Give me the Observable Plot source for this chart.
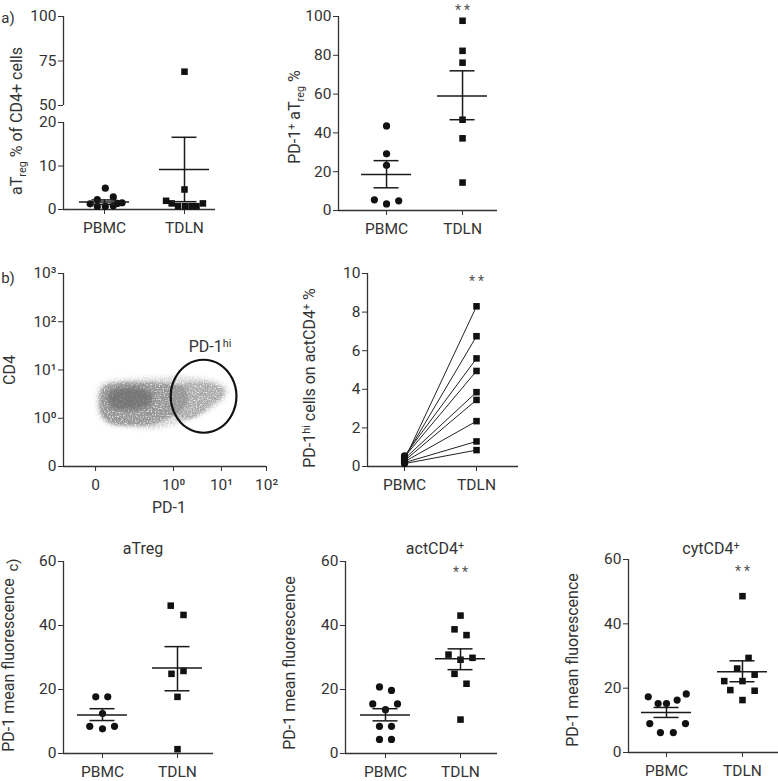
<!DOCTYPE html>
<html><head><meta charset="utf-8">
<script src="https://cdn.jsdelivr.net/npm/d3@7"></script>
<script src="https://cdn.jsdelivr.net/npm/@observablehq/plot@0.6"></script>
<style>
html,body{margin:0;padding:0;background:#fff;}
#fig{position:relative;width:778px;height:781px;overflow:hidden;font-family:Roboto,"DejaVu Sans",sans-serif;color:#333;}
#fig svg{position:absolute;left:0;top:0;}
.lab{position:absolute;white-space:nowrap;font-size:16px;line-height:1;transform:translate(-50%,-50%);}
.rot{transform:translate(-50%,-50%) rotate(-90deg);}
.lab sup{font-size:0.68em;vertical-align:0.5em;line-height:0;}
.lab sub{font-size:0.68em;vertical-align:-0.35em;line-height:0;}
</style></head><body><div id="fig"></div>
<script>
// ---------- data ----------
const groups = ["PBMC", "TDLN"];

// a) left: aTreg % of CD4+ cells (broken axis)
const aTregPBMC = [4.9, 2.3, 2.9, 1.3, 1.55, 0.7, 0.7, 0.85, 1.4];
const aTregPBMCJitter = [0.01, -0.09, 0.11, -0.18, 0.22, -0.09, 0.01, 0.11, 0.16];
const aTregTDLN = [69, 4.6, 2.0, 1.4, 0.76, 0.76, 0.76, 0.76, 1.4];
const aTregTDLNJitter = [0, 0, -0.23, -0.16, -0.08, 0.01, 0.09, 0.15, 0.23];
const aTregMean = [1.7, 9.2];
const aTregUpper = [2.2, 16.6];
const aTregLower = [1.2, 1.8];
const aTregTicksLow = [0, 10, 20];
const aTregTicksHigh = [50, 75, 100];

// a) right: PD-1+ aTreg %
const pd1aTregPBMC = [43.6, 29.2, 23.3, 5.5, 3.4, 5.0];
const pd1aTregPBMCJitter = [0, 0, 0, -0.16, 0, 0.16];
const pd1aTregTDLN = [97.8, 82.3, 76.2, 46.8, 37.2, 14.4];
const pd1aTregTDLNJitter = [0, 0, 0, 0, 0, 0];
const pd1aTregMean = [18.5, 59.0];
const pd1aTregUpper = [25.7, 72.0];
const pd1aTregLower = [11.7, 46.8];
const pd1aTregTicks = [0, 20, 40, 60, 80, 100];
const pd1aTregSig = 105.2;

// b) left: flow cytometry plot (display channels)
const flowXTicks = [158, 542, 778, 1000];
const flowXLabels = ["0", "10⁰", "10¹", "10²"];
const flowYTicks = [0, 250, 500, 750, 1000];
const flowYLabels = ["0", "10⁰", "10¹", "10²", "10³"];
const cloudHalo = [[165,360],[180,420],[240,448],[330,456],[450,462],[560,468],[680,458],[770,435],[808,400],[798,360],[740,305],[660,262],[560,220],[440,196],[320,204],[220,218],[172,270]];
const cloudRight = [[560,420],[650,436],[740,428],[790,400],[784,362],[730,320],[690,282],[640,252],[580,246],[540,290],[530,360]];
const cloudLeft = [[178,360],[195,412],[260,432],[350,438],[450,436],[540,428],[600,408],[612,350],[582,292],[520,252],[440,218],[330,212],[230,226],[186,272]];
const cloudCore = [[215,362],[240,396],[300,410],[380,406],[432,384],[436,332],[392,302],[310,292],[240,302]];
const gate = [[852,364],[830,458],[771,528],[690,553],[609,528],[550,458],[528,364],[550,270],[609,200],[690,175],[771,200],[830,270]];

// b) right: PD-1hi cells on actCD4+ % (paired)
const pd1hiPBMC = [0.35, 0.45, 0.55, 0.5, 0.4, 0.3, 0.25, 0.2, 0.15];
const pd1hiTDLN = [8.3, 6.75, 5.6, 4.95, 3.85, 3.45, 2.35, 1.3, 0.85];
const pd1hiTicks = [0, 2, 4, 6, 8, 10];
const pd1hiSig = 9.8;

// c) PD-1 mean fluorescence
const mfiTicks = [0, 20, 40, 60];
const mfiATregPBMC = [17.7, 17.7, 12.5, 8.5, 7.7, 8.5];
const mfiATregPBMCJitter = [-0.09, 0.07, 0, -0.17, 0, 0.16];
const mfiATregTDLN = [46.2, 43.3, 24.9, 25.8, 17.7, 1.35];
const mfiATregTDLNJitter = [-0.09, 0.08, -0.08, 0.08, 0, 0];
const mfiATregMean = [12.0, 26.7];
const mfiATregUpper = [14.0, 33.4];
const mfiATregLower = [10.3, 19.6];

const mfiActPBMC = [20.8, 19.7, 15.5, 13.7, 15.5, 8.5, 8.5, 4.4, 4.4];
const mfiActPBMCJitter = [-0.08, 0.08, -0.17, 0, 0.16, -0.08, 0.08, -0.08, 0.08];
const mfiActTDLN = [43.1, 38.8, 37.0, 30.9, 29.3, 29.9, 24.9, 21.8, 10.6];
const mfiActTDLNJitter = [0, -0.08, 0.08, -0.16, 0, 0.16, -0.08, 0.08, 0];
const mfiActMean = [12.0, 29.6];
const mfiActUpper = [14.0, 32.7];
const mfiActLower = [10.2, 26.2];
const mfiActSig = 57.8;

const mfiCytPBMC = [17.3, 15.2, 15.2, 16.3, 18.2, 9.0, 9.0, 6.2, 6.2];
const mfiCytPBMCJitter = [-0.24, -0.11, 0, 0.14, 0.26, -0.22, 0.25, -0.08, 0.09];
const mfiCytTDLN = [48.6, 29.4, 26.1, 24.2, 22.2, 22.2, 19.4, 19.2, 16.3];
const mfiCytTDLNJitter = [0, 0.08, -0.07, 0.16, -0.24, 0, -0.16, 0.16, 0];
const mfiCytMean = [12.4, 25.1];
const mfiCytUpper = [14.0, 28.5];
const mfiCytLower = [10.9, 22.0];
const mfiCytSig = 57.5;

// ---------- drawing ----------
const W = 778, H = 781;
const fig = document.getElementById("fig");
const INK = "#333";
const baseStyle = {background: "transparent", color: INK, fontFamily: "Roboto, 'DejaVu Sans', sans-serif", fontSize: "15.5px", overflow: "visible"};

function pts(vals, jit, g) { return vals.map((v, i) => ({g, x: g + (jit ? jit[i] : 0), y: v})); }

function frameOpts([L, T, R, B]) {
  return {width: W, height: H, marginLeft: L, marginTop: T, marginRight: W - R, marginBottom: H - B};
}

function scatterPanel(o) {
  const [L, T, R, B] = o.frame;
  const ppu = (R - L) / (o.xDomain[1] - o.xDomain[0]);
  const mhw = 25 / ppu, chw = 12.5 / ppu;
  const inRange = d => d.y >= o.yDomain[0] && d.y <= o.yDomain[1];
  const pb = pts(o.pbmc, o.pbmcJ, 0).filter(inRange);
  const td = pts(o.tdln, o.tdlnJ, 1).filter(inRange);
  const stats = o.mean ? groups.map((n, i) => ({g: i, m: o.mean[i], hi: o.upper[i], lo: o.lower[i]})) : [];
  const bar = {stroke: "#1a1a1a", strokeWidth: 1.5};
  const marks = [Plot.ruleX([o.xDomain[0]], {stroke: INK, strokeWidth: 1.3})];
  if (o.xAxis !== false) marks.push(Plot.ruleY([o.yDomain[0]], {stroke: INK, strokeWidth: 1.3}));
  if (o.links) marks.push(Plot.link(o.links, {x1: () => 0, x2: () => 1, y1: "a", y2: "b", stroke: "#222", strokeWidth: 1}));
  marks.push(
    Plot.dot(pb, {x: "x", y: "y", r: 3.6, fill: "#111", symbol: "circle"}),
    Plot.dot(td, {x: "x", y: "y", r: 3.7, fill: "#111", symbol: "square"}),
    Plot.ruleX(stats, {x: "g", y1: "lo", y2: "hi", ...bar}),
    Plot.ruleY(stats, {y: "hi", x1: d => d.g - chw, x2: d => d.g + chw, ...bar}),
    Plot.ruleY(stats, {y: "lo", x1: d => d.g - chw, x2: d => d.g + chw, ...bar}),
    Plot.ruleY(stats, {y: "m", x1: d => d.g - mhw, x2: d => d.g + mhw, ...bar})
  );
  if (o.sig != null) marks.push(Plot.text([o.sig], {x: () => 1, y: d => d, text: () => "*\u2009*", fontSize: 14, fill: "#555", dy: 4}));
  const svg = Plot.plot({
    ...frameOpts(o.frame),
    style: baseStyle,
    x: o.xAxis === false ? {domain: o.xDomain, axis: null}
      : {domain: o.xDomain, ticks: [0, 1], tickFormat: d => groups[d], tickSize: 5, tickPadding: 7, label: null},
    y: {domain: o.yDomain, ticks: o.yTicks, tickSize: 5, tickPadding: 2, label: null},
    marks
  });
  fig.appendChild(svg);
}

// a) left, upper segment
scatterPanel({frame: [63, 16, 215, 105], xDomain: [-0.5125, 1.3875], yDomain: [50, 100], yTicks: aTregTicksHigh,
  pbmc: aTregPBMC, pbmcJ: aTregPBMCJitter, tdln: aTregTDLN, tdlnJ: aTregTDLNJitter, xAxis: false});
// a) left, lower segment
scatterPanel({frame: [63, 122, 215, 209], xDomain: [-0.5125, 1.3875], yDomain: [0, 20], yTicks: aTregTicksLow,
  pbmc: aTregPBMC, pbmcJ: aTregPBMCJitter, tdln: aTregTDLN, tdlnJ: aTregTDLNJitter,
  mean: aTregMean, upper: aTregUpper, lower: aTregLower});
// a) right
scatterPanel({frame: [338, 16, 497, 210], xDomain: [-0.632, 1.46], yDomain: [0, 100], yTicks: pd1aTregTicks,
  pbmc: pd1aTregPBMC, pbmcJ: pd1aTregPBMCJitter, tdln: pd1aTregTDLN, tdlnJ: pd1aTregTDLNJitter,
  mean: pd1aTregMean, upper: pd1aTregUpper, lower: pd1aTregLower, sig: pd1aTregSig});
// b) right
scatterPanel({frame: [367, 273, 518, 466], xDomain: [-0.514, 1.583], yDomain: [0, 10], yTicks: pd1hiTicks,
  pbmc: pd1hiPBMC, tdln: pd1hiTDLN, links: pd1hiPBMC.map((a, i) => ({a, b: pd1hiTDLN[i]})), sig: pd1hiSig});
// c)
scatterPanel({frame: [63, 561, 213, 753], xDomain: [-0.52, 1.48], yDomain: [0, 60], yTicks: mfiTicks,
  pbmc: mfiATregPBMC, pbmcJ: mfiATregPBMCJitter, tdln: mfiATregTDLN, tdlnJ: mfiATregTDLNJitter,
  mean: mfiATregMean, upper: mfiATregUpper, lower: mfiATregLower});
scatterPanel({frame: [345, 561, 497, 753], xDomain: [-0.533, 1.493], yDomain: [0, 60], yTicks: mfiTicks,
  pbmc: mfiActPBMC, pbmcJ: mfiActPBMCJitter, tdln: mfiActTDLN, tdlnJ: mfiActTDLNJitter,
  mean: mfiActMean, upper: mfiActUpper, lower: mfiActLower, sig: mfiActSig});
scatterPanel({frame: [628, 559, 778, 752], xDomain: [-0.5, 1.474], yDomain: [0, 60], yTicks: mfiTicks,
  pbmc: mfiCytPBMC, pbmcJ: mfiCytPBMCJitter, tdln: mfiCytTDLN, tdlnJ: mfiCytTDLNJitter,
  mean: mfiCytMean, upper: mfiCytUpper, lower: mfiCytLower, sig: mfiCytSig});

// b) left: flow plot
(function () {
  const poly = (p, fill) => Plot.line(p, {x: d => d[0], y: d => d[1], curve: "catmull-rom-closed", fill, stroke: "none"});
  const svg = Plot.plot({
    ...frameOpts([63, 273, 266, 466]),
    style: baseStyle,
    x: {domain: [0, 1000], ticks: flowXTicks, tickFormat: d => flowXLabels[flowXTicks.indexOf(d)], tickSize: 5, tickPadding: 7, label: null},
    y: {domain: [0, 1000], ticks: flowYTicks, tickFormat: d => flowYLabels[flowYTicks.indexOf(d)], tickSize: 5, tickPadding: 2, label: null},
    marks: [
      poly(cloudHalo, "#d2d2d2"),
      poly(cloudRight, "#a8a8a8"),
      poly(cloudLeft, "#959595"),
      poly(cloudCore, "#777777"),
      Plot.line(gate, {x: d => d[0], y: d => d[1], curve: "catmull-rom-closed", stroke: "#111", strokeWidth: 2.2}),
      Plot.ruleX([0], {stroke: INK, strokeWidth: 1.3}),
      Plot.ruleY([0], {stroke: INK, strokeWidth: 1.3})
    ]
  });
  // speckled texture for the cell cloud (visual styling only)
  const s = d3.select(svg);
  const defs = s.insert("defs", ":first-child");
  const specs = [{seed: 3, blur: 2.2, k: 3.2, b: -0.85}, {seed: 11, blur: 1.6, k: 3.4, b: -0.9}, {seed: 17, blur: 1.6, k: 3.2, b: -0.7}, {seed: 29, blur: 2.0, k: 3.0, b: -0.3}];
  specs.forEach((sp, i) => {
    const f = defs.append("filter").attr("id", "spk" + i).attr("x", "-20%").attr("y", "-20%").attr("width", "140%").attr("height", "140%");
    f.append("feGaussianBlur").attr("in", "SourceGraphic").attr("stdDeviation", sp.blur).attr("result", "b");
    f.append("feTurbulence").attr("type", "fractalNoise").attr("baseFrequency", 0.75).attr("numOctaves", 2).attr("seed", sp.seed).attr("result", "n");
    f.append("feColorMatrix").attr("in", "n").attr("type", "matrix")
      .attr("values", `0 0 0 0 0  0 0 0 0 0  0 0 0 0 0  ${sp.k} 0 0 0 ${sp.b}`).attr("result", "m");
    f.append("feComposite").attr("in", "b").attr("in2", "m").attr("operator", "in");
  });
  s.selectAll('g[aria-label="line"]').filter((d, i) => i < 4).attr("filter", (d, i) => `url(#spk${i})`);
  fig.appendChild(svg);
})();

// ---------- text labels ----------
function label(html, x, y, rot, size) {
  const d = document.createElement("div");
  d.className = "lab" + (rot ? " rot" : "");
  d.style.left = x + "px";
  d.style.top = y + "px";
  if (size) d.style.fontSize = size + "px";
  d.innerHTML = html;
  fig.appendChild(d);
}
label("a)", 8, 18, false, 15);
label("b)", 8, 278, false, 15);
label("c)", 12.5, 565, true, 15);
label("aT<sub>reg</sub> % of CD4+ cells", 17, 121, true);
label("PD-1<sup>+</sup> aT<sub>reg</sub> %", 295, 117, true);
label("CD4", 10, 370, true);
label("PD-1", 169, 508, false);
label("PD-1<sup>hi</sup>", 210, 347, false);
label("PD-1<sup>hi</sup> cells on actCD4<sup>+</sup> %", 310, 378, true);
label("PD-1 mean fluorescence", 9, 665, true);
label("PD-1 mean fluorescence", 290, 663, true);
label("PD-1 mean fluorescence", 573, 660, true);
label("aTreg", 143, 549, false);
label("actCD4<sup>+</sup>", 435, 549, false);
label("cytCD4<sup>+</sup>", 711, 549, false);
</script></body></html>
